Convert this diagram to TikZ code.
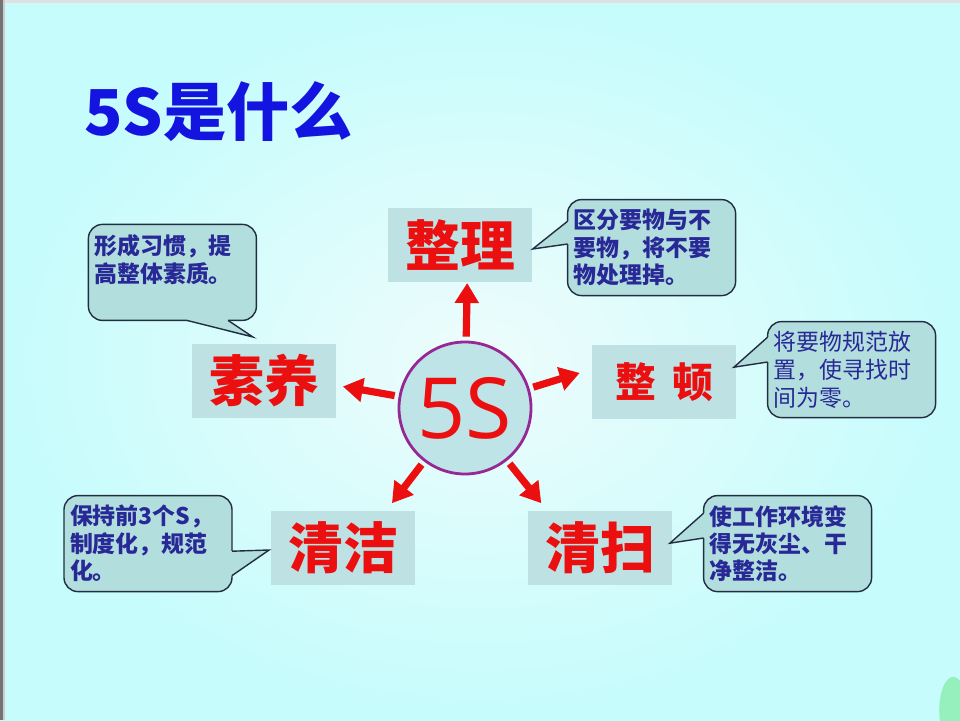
\documentclass[tikz,border=0pt]{standalone}
\usepackage{fontspec}
\usepackage{tikz}
\usetikzlibrary{arrows.meta,calc}
\usepackage{xcolor}
\newfontfamily\cjk{Noto Sans CJK SC}
\newfontfamily\numfont{Open Sans}
\definecolor{bgcyan}{RGB}{198,252,252}
\definecolor{bglight}{RGB}{238,252,252}
\definecolor{boxfill}{RGB}{190,226,228}
\definecolor{callfill}{RGB}{178,222,222}
\definecolor{callline}{RGB}{35,45,65}
\definecolor{calltext}{RGB}{40,40,150}
\definecolor{titleblue}{RGB}{20,20,225}
\definecolor{sred}{RGB}{235,15,15}
\definecolor{ringpurple}{RGB}{150,40,150}
\definecolor{ringfill}{RGB}{190,228,232}
\definecolor{blobgreen}{RGB}{150,240,190}

\begin{document}
\begin{tikzpicture}[>={Triangle[width=0.58cm,length=0.5cm]},
        sbox/.style={rectangle, fill=boxfill, minimum width=3.58cm, minimum height=1.83cm, inner sep=0pt, text=sred, font=\cjk\bfseries\fontsize{39}{39}\selectfont},
        callbox/.style={rectangle, rounded corners=0.35cm, draw=callline, line width=1pt, fill=callfill, outer sep=0pt, minimum width=4.2cm, minimum height=2.4cm, text width=3.9cm, align=left, inner sep=0.15cm, text=calltext, font=\cjk\bfseries\fontsize{16.3}{19.5}\selectfont},
        tailline/.style={draw=callline, line width=1pt},
        sarrow/.style={->, draw=sred, line width=0.18cm, shorten <=0.1cm}]
        \useasboundingbox (0,0) rectangle (24,18);
        \shade[inner color=bglight, outer color=bgcyan] (0,0) rectangle (24,18);
        \fill[black!55] (0,0) rectangle (0.075,18);
        \fill[black!20] (0.075,0) rectangle (0.125,18);
        \fill[black!12] (0.125,17.93) rectangle (24,18);
        \begin{scope}
            \clip (0,0) rectangle (24,18);
            \fill[blobgreen] (23.83,0.25) ellipse (0.35 and 0.83);
        \end{scope}

        \node[anchor=west, inner sep=0pt, text=titleblue, font=\cjk\bfseries\fontsize{45}{45}\selectfont] (title) at (2.1,15.2) {5S是什么};

        \node[circle, draw=ringpurple, line width=2pt, fill=ringfill, minimum size=3.3cm, inner sep=0pt, text=sred, font=\numfont\fontsize{60}{60}\selectfont] (core) at (11.625,7.8) {5S};

        \node[sbox] (zl) at (11.5,11.875) {整理};
        \node[sbox, font=\cjk\bfseries\fontsize{29}{29}\selectfont] (zd) at (16.6,8.45) {整\hspace{0.4em}顿};
        \node[sbox] (sy) at (6.6,8.475) {素养};
        \node[sbox] (qj) at (8.575,4.3) {清洁};
        \node[sbox] (qs) at (15.0,4.3) {清扫};

        \coordinate (tzl) at ($(core)+(89:3.125)$);
        \coordinate (tzd) at ($(core)+(17:3.0)$);
        \coordinate (tsy) at ($(core)+(170:3.1)$);
        \coordinate (tqj) at ($(core)+(232.5:3.0)$);
        \coordinate (tqs) at ($(core)+(308.7:3.05)$);
        \foreach \t in {tzl,tzd,tsy,tqj,tqs}
            \draw[sarrow] (core) -- (\t);

        \node[callbox] (czl) at (16.29,11.81) {区分要物与不\\要物，将不要\\物处理掉。};
        \node[callbox, font=\cjk\fontsize{16.3}{20}\selectfont] (czd) at (21.29,8.76) {将要物规范放\\置，使寻找时\\间为零。};
        \node[callbox] (csy) at (4.31,11.19) {形成习惯，提\\高整体素质。\\\mbox{}};
        \node[callbox] (cqj) at (3.7,4.41) {保持前3个S，\\制度化，规范\\化。};
        \node[callbox] (cqs) at (19.69,4.41) {使工作环境变\\得无灰尘、干\\净整洁。};

        \coordinate (czl-a) at ($(czl.west)+(0,0.66)$);
        \coordinate (czl-b) at ($(czl.west)+(0,0.09)$);
        \coordinate (czl-t) at ($(zl.east)+(0.02,-0.1)$);
        \coordinate (czd-a) at ($(czd.west)+(0,0.81)$);
        \coordinate (czd-b) at ($(czd.west)+(0,0.19)$);
        \coordinate (czd-t) at ($(zd.east)+(-0.05,0.37)$);
        \coordinate (csy-a) at ($(csy.south)+(0.36,0)$);
        \coordinate (csy-b) at ($(csy.south)+(1.39,0)$);
        \coordinate (csy-t) at ($(sy.north)+(-0.28,0.18)$);
        \coordinate (cqj-a) at ($(cqj.east)+(0,-0.19)$);
        \coordinate (cqj-b) at ($(cqj.east)+(0,-0.8)$);
        \coordinate (cqj-t) at ($(qj.west)+(-0.05,-0.05)$);
        \coordinate (cqs-a) at ($(cqs.west)+(0,0.76)$);
        \coordinate (cqs-b) at ($(cqs.west)+(0,0.14)$);
        \coordinate (cqs-t) at ($(qs.east)+(-0.05,0.12)$);
        \foreach \c/\dx/\dy in {czl/0.06/0, czd/0.06/0, csy/0/0.06, cqj/-0.06/0, cqs/0.06/0} {
            \fill[callfill] (\c-a) -- (\c-t) -- (\c-b) -- ([shift={(\dx,\dy)}]\c-b) -- ([shift={(\dx,\dy)}]\c-a) -- cycle;
            \draw[tailline] (\c-a) -- (\c-t) -- (\c-b);
        }
\end{tikzpicture}
\end{document}
